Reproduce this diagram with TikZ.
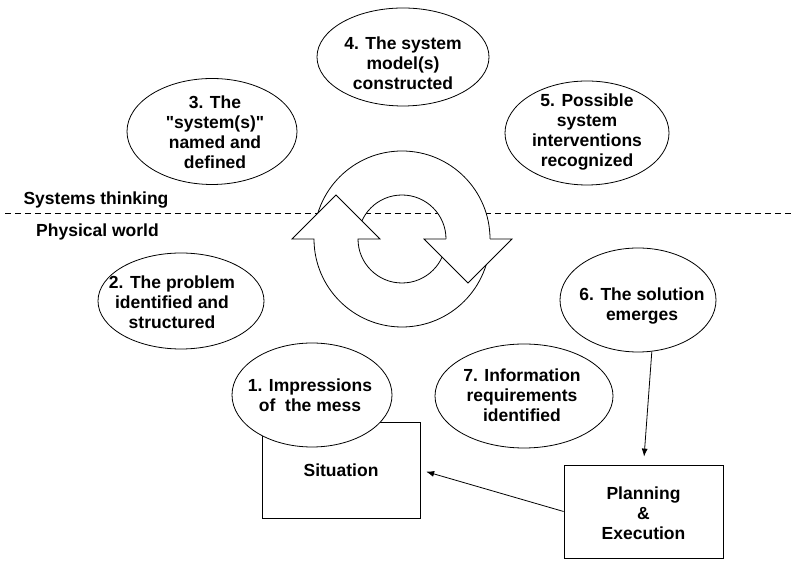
\documentclass[tikz,border=0pt]{standalone}
\usepackage{fontspec}
\setmainfont{Liberation Sans}
% same family without the TeX quote mapping, for straight double quotes
\newfontfamily\straightq{Liberation Sans}
\newcommand{\dq}{{\straightq\bfseries"}}
\usetikzlibrary{arrows.meta,shapes.geometric}

\begin{document}
\begin{tikzpicture}[x=1pt,y=1pt,
  oval/.style={draw=black, line width=0.8pt, fill=white, ellipse, inner sep=0pt},
  txt/.style={font=\fontsize{17.5}{20}\selectfont\bfseries, align=center, inner sep=0pt},
  side/.style={font=\fontsize{17.5}{20}\selectfont\bfseries, inner sep=0pt},
  stage/.style={draw=black, line width=0.8pt, fill=white, rectangle, inner sep=0pt},
  ring/.style={draw=black, line width=0.8pt},
  link/.style={line width=0.8pt, -{Latex[length=8pt,width=6pt]}},
]
\useasboundingbox (0,0) rectangle (791,561);

% boundary between the two worlds
\coordinate (dl) at (5,348);
\coordinate (dr) at (791,348);
\draw[line width=0.8pt, dash pattern=on 6pt off 4pt] (dl) -- (dr);
\node[side] (st) at (96,361) {Systems thinking};
\node[side] (pw) at (97.5,329) {Physical world};

% cycle of two curved arrows
\coordinate (rc) at (402,322);
\fill[white, even odd rule] (rc) circle[radius=88] (rc) circle[radius=44];
\fill[white] (292,322) -- (336,366) -- (380,322) -- cycle;
\fill[white] (424,322) -- (468,278) -- (512,322) -- cycle;
% upper arrow band
\draw[ring] (314,322) arc[start angle=180, end angle=0, radius=88];
\draw[ring] (358,322) arc[start angle=180, end angle=0, radius=44];
% lower arrow, its head covering the upper band
\fill[white] (292,322) -- (336,366) -- (380,322) -- cycle;
\draw[ring] (490,322) arc[start angle=0, end angle=-180, radius=88]
  -- (292,322) -- (336,366) -- (380,322) -- (358,322)
  arc[start angle=180, end angle=360, radius=44];
% head of the upper arrow, covering the lower band
\fill[white] (424,322) -- (468,278) -- (512,322) -- cycle;
\draw[ring] (446,322) -- (424,322) -- (468,278) -- (512,322) -- (490,322);

% boxes
\node[stage, minimum width=158, minimum height=96] (sit) at (341,91) {};
\node[txt] (tsit) at (sit.center) {Situation};
\node[stage, minimum width=159, minimum height=93] (pl) at (643.5,49.5) {};
\node[txt] (tpl) at ([yshift=-2]pl.center) {Planning\\\&\\Execution};

% stages
\node[oval, minimum width=172, minimum height=98] (e4) at (403,504) {};
\node[txt] (t4) at ([yshift=-6]e4.center) {4. The system\\model(s)\\constructed};
\node[oval, minimum width=170, minimum height=106] (e3) at (212,429.5) {};
\node[txt] (t3) at ([xshift=3,yshift=-1]e3.center) {3. The\\\dq system(s)\dq\\named and\\defined};
\node[oval, minimum width=164, minimum height=104] (e5) at (587,428) {};
\node[txt] (t5) at ([yshift=1]e5.center) {5. Possible\\system\\interventions\\recognized};
\node[oval, minimum width=166, minimum height=96] (e2) at (181,260) {};
\node[txt] (t2) at ([xshift=-9,yshift=-1]e2.center) {2. The problem\\identified and\\structured};
\node[oval, minimum width=156, minimum height=104] (e6) at (638,261) {};
\node[txt] (t6) at ([xshift=4,yshift=-6]e6.center) {6. The solution\\emerges};
\node[oval, minimum width=178, minimum height=104] (e7) at (524,165) {};
\node[txt] (t7) at ([xshift=-2,yshift=1]e7.center) {7. Information\\requirements\\identified};
\node[oval, minimum width=160, minimum height=104] (e1) at (312,166) {};
\node[txt] (t1) at ([xshift=-2]e1.center) {1. Impressions\\of\ \ the mess};

% connectors
\draw[link, shorten >=8pt] (e6.-75) -- (pl.north);
\draw[link, shorten >=6pt] (pl.west) -- (sit.east);
\end{tikzpicture}
\end{document}
